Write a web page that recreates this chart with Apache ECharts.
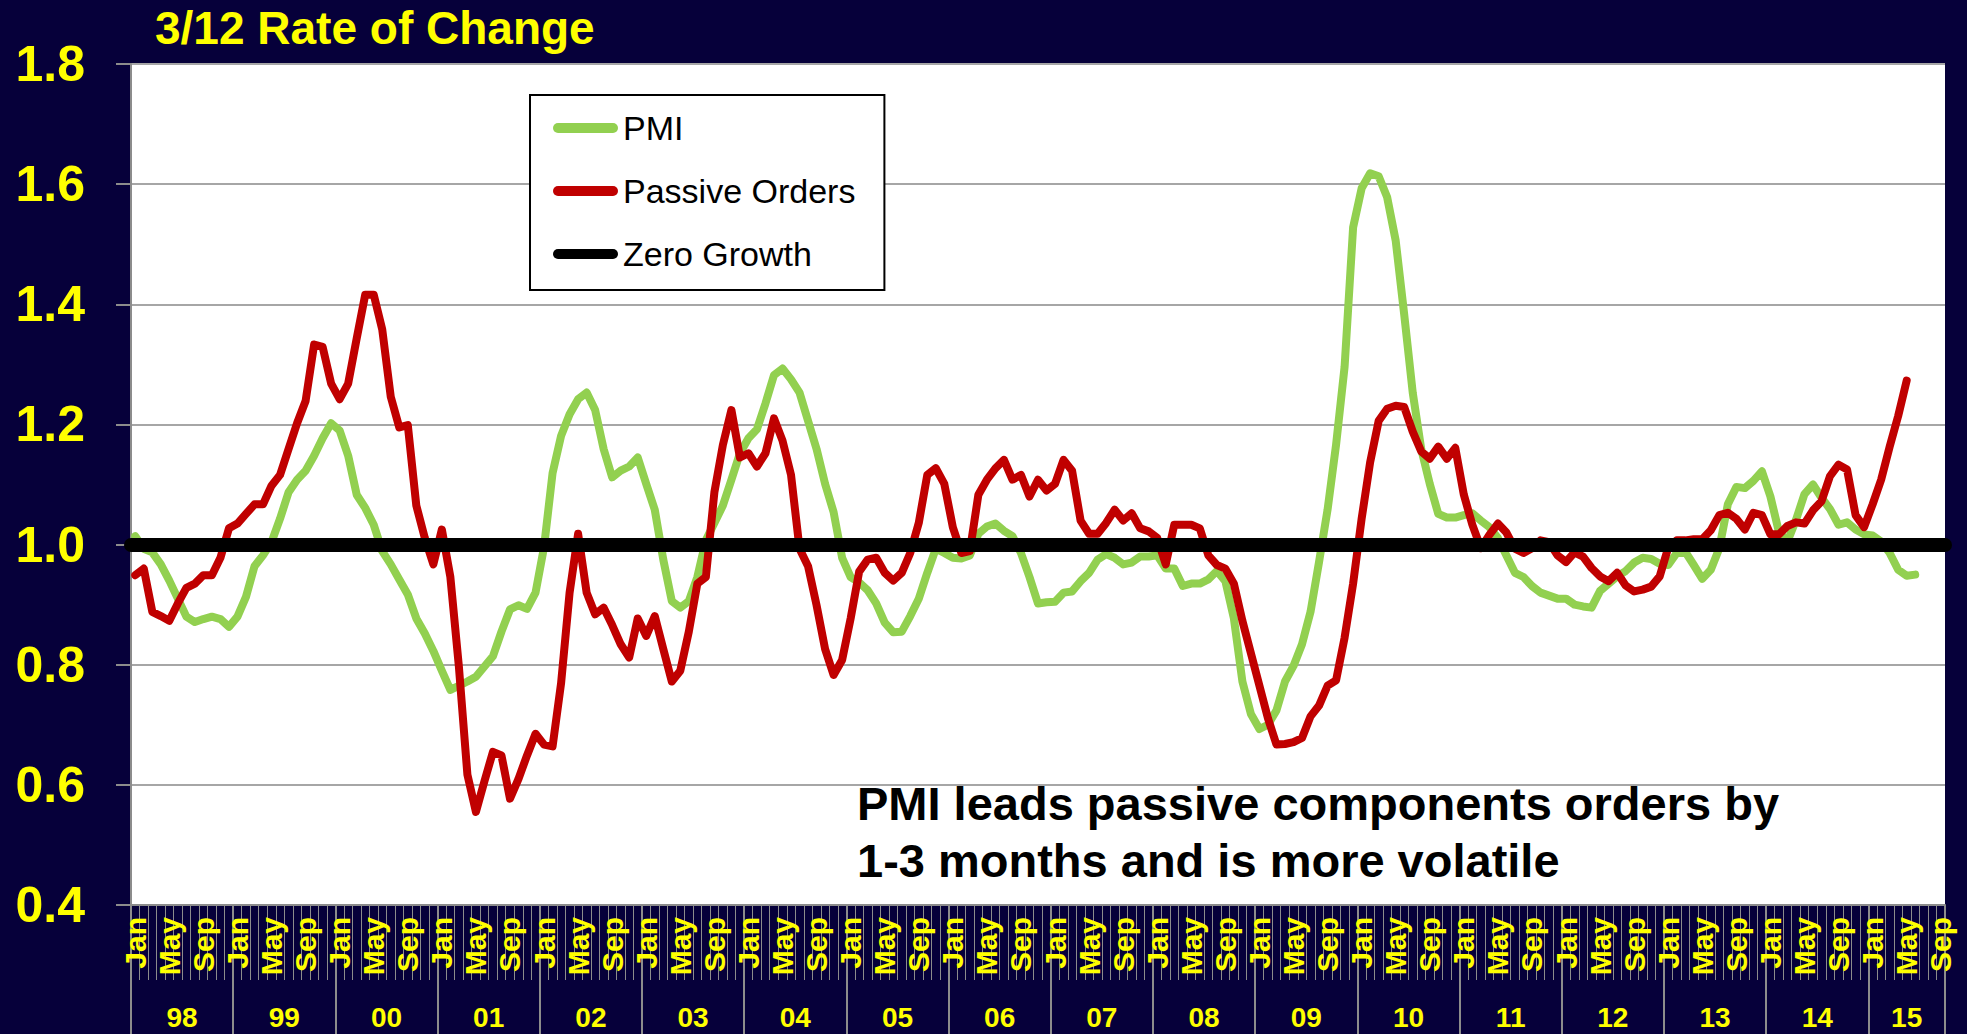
<!DOCTYPE html>
<html><head><meta charset="utf-8">
<script src="https://cdn.jsdelivr.net/npm/echarts@6/dist/echarts.min.js"></script>
<style>html,body{margin:0;padding:0;background:#06003a;}#c{width:1967px;height:1034px;}</style>
</head><body><div id="c"></div>
<script>
// ---- data ----
const years = ['98','99','00','01','02','03','04','05','06','07','08','09','10','11','12','13','14','15'];
const monthNames = ['Jan','Feb','Mar','Apr','May','Jun','Jul','Aug','Sep','Oct','Nov','Dec'];
const monthsInLastYear = 9; // axis runs Jan 98 .. Sep 15
const yTicks = [0.4, 0.6, 0.8, 1.0, 1.2, 1.4, 1.6, 1.8];
const zeroGrowthLevel = 1.0;

const pmi = [
1.014,0.993,0.987,0.967,0.94,0.91,0.88,0.871,0.876,0.88,0.876,0.863,
0.88,0.913,0.964,0.982,1.004,1.043,1.087,1.108,1.123,1.148,1.177,1.202,
1.19,1.148,1.083,1.061,1.033,0.989,0.967,0.942,0.917,0.877,0.852,0.823,
0.79,0.758,0.765,0.772,0.78,0.797,0.814,0.855,0.892,0.899,0.893,0.92,
0.996,1.119,1.181,1.217,1.242,1.253,1.224,1.159,1.112,1.123,1.13,1.145,
1.101,1.058,0.975,0.906,0.895,0.906,0.946,1.007,1.036,1.065,1.108,1.152,
1.177,1.192,1.235,1.282,1.293,1.275,1.253,1.206,1.159,1.101,1.054,0.978,
0.946,0.937,0.924,0.902,0.87,0.854,0.855,0.881,0.91,0.953,0.993,0.986,
0.978,0.977,0.982,1.018,1.03,1.035,1.023,1.014,0.986,0.946,0.902,0.904,
0.905,0.92,0.922,0.939,0.953,0.975,0.984,0.978,0.967,0.97,0.98,0.98,
0.982,0.96,0.96,0.931,0.935,0.935,0.942,0.956,0.939,0.877,0.772,0.718,
0.693,0.7,0.724,0.772,0.798,0.834,0.888,0.971,1.058,1.166,1.296,1.528,
1.593,1.618,1.613,1.578,1.506,1.383,1.253,1.159,1.101,1.051,1.045,1.045,
1.049,1.052,1.04,1.029,1.011,0.982,0.953,0.946,0.931,0.92,0.915,0.91,
0.91,0.9,0.897,0.895,0.923,0.935,0.947,0.956,0.97,0.978,0.976,0.968,
0.966,0.986,0.988,0.966,0.943,0.958,0.994,1.067,1.096,1.094,1.106,1.122,
1.08,1.021,1.005,1.041,1.084,1.1,1.078,1.059,1.033,1.037,1.025,1.017,
1.015,1.005,0.986,0.958,0.948,0.95
];
const passiveOrders = [
0.949,0.96,0.888,0.881,0.873,0.902,0.928,0.935,0.949,0.949,0.978,1.027,
1.035,1.051,1.067,1.067,1.098,1.116,1.159,1.202,1.239,1.333,1.329,1.268,
1.242,1.268,1.343,1.416,1.416,1.358,1.246,1.195,1.199,1.065,1.011,0.967,
1.025,0.946,0.797,0.617,0.555,0.606,0.655,0.649,0.577,0.61,0.649,0.685,
0.667,0.664,0.769,0.92,1.018,0.92,0.884,0.895,0.866,0.834,0.812,0.877,
0.848,0.881,0.826,0.772,0.79,0.855,0.935,0.946,1.087,1.166,1.224,1.145,
1.152,1.13,1.152,1.21,1.173,1.116,0.993,0.964,0.899,0.826,0.783,0.808,
0.877,0.955,0.975,0.978,0.953,0.94,0.953,0.986,1.036,1.116,1.127,1.101,
1.029,0.986,0.989,1.083,1.108,1.127,1.141,1.108,1.116,1.08,1.108,1.09,
1.101,1.141,1.123,1.04,1.018,1.018,1.036,1.058,1.04,1.052,1.027,1.022,
1.011,0.967,1.033,1.033,1.033,1.027,0.982,0.966,0.96,0.935,0.873,0.819,
0.765,0.711,0.667,0.668,0.671,0.678,0.714,0.732,0.765,0.774,0.845,0.935,
1.043,1.137,1.206,1.226,1.231,1.229,1.188,1.155,1.143,1.163,1.143,1.161,
1.083,1.033,0.994,1.016,1.035,1.02,0.993,0.986,0.994,1.007,1.004,0.982,
0.971,0.987,0.98,0.961,0.947,0.939,0.953,0.932,0.922,0.925,0.93,0.947,
0.995,1.007,1.007,1.009,1.009,1.024,1.049,1.053,1.043,1.025,1.053,1.049,
1.017,1.017,1.031,1.037,1.035,1.057,1.072,1.114,1.133,1.125,1.049,1.029,
1.067,1.108,1.163,1.214,1.273
];

// ---- derived axis helpers ----
const categories = [];
years.forEach((y, k) => {
  const n = (k === years.length - 1) ? monthsInLastYear : 12;
  for (let m = 0; m < n; m++) categories.push(monthNames[m] + ' ' + y);
});
const N = categories.length;
const yearBounds = [], yearCenters = [], centerToYear = {};
years.forEach((y, k) => {
  const s = k * 12, e = Math.min((k + 1) * 12, N);
  yearBounds.push(s);
  const c = (s + e) / 2;
  yearCenters.push(c);
  centerToYear[c] = y;
});
yearBounds.push(N);

const FONT = '"Liberation Sans", Arial, Helvetica, sans-serif';
const YEL = '#ffff00';
const GRAY = '#8c8c8c';

const chart = echarts.init(document.getElementById('c'), null, {renderer: 'svg', width: 1967, height: 1034});
chart.setOption({
  backgroundColor: '#06003a',
  animation: false,
  title: {
    text: '3/12 Rate of Change',
    left: 150, top: 0,
    textStyle: {color: YEL, fontFamily: FONT, fontWeight: 'bold', fontSize: 46}
  },
  legend: {
    orient: 'vertical',
    left: 530, top: 95,
    padding: [16, 29, 19, 23],
    itemGap: 29,
    itemWidth: 65, itemHeight: 11,
    icon: 'path://M5,0 H60 A5,5 0 0 1 60,10 H5 A5,5 0 0 1 5,0 Z',
    backgroundColor: '#ffffff',
    borderColor: '#000000', borderWidth: 2, borderRadius: 0,
    textStyle: {color: '#000', fontFamily: FONT, fontSize: 34},
    data: ['PMI', 'Passive Orders', 'Zero Growth']
  },
  grid: {
    left: 131, top: 64, width: 1814, height: 841,
    show: true, backgroundColor: '#ffffff', borderWidth: 0,
    containLabel: false
  },
  graphic: [{
    type: 'text', left: 857, top: 775, z: 100,
    style: {
      text: 'PMI leads passive components orders by\n1-3 months and is more volatile',
      fill: '#000', font: 'bold 47px ' + FONT, lineHeight: 57
    }
  }],
  xAxis: [{
    type: 'category', data: categories, boundaryGap: true,
    axisLine: {show: true, lineStyle: {color: GRAY, width: 2}},
    axisTick: {show: true, interval: 0, length: 75, lineStyle: {color: GRAY, width: 1}},
    axisLabel: {
      interval: 3, rotate: 90, margin: 12,
      color: YEL, fontFamily: FONT, fontWeight: 'bold', fontSize: 30,
      formatter: v => v.split(' ')[0]
    },
    splitLine: {show: false}
  }, {
    type: 'value', position: 'bottom', min: 0, max: N,
    axisLine: {show: false},
    axisTick: {show: true, customValues: yearBounds, length: 129, lineStyle: {color: GRAY, width: 2}},
    axisLabel: {
      customValues: yearCenters, margin: 98,
      color: YEL, fontFamily: FONT, fontWeight: 'bold', fontSize: 28,
      formatter: v => centerToYear[v] || ''
    },
    splitLine: {show: false}
  }],
  yAxis: {
    type: 'value', min: yTicks[0], max: yTicks[yTicks.length - 1], interval: 0.2,
    axisLine: {show: true, lineStyle: {color: GRAY, width: 2}},
    axisTick: {show: true, length: 15, lineStyle: {color: GRAY, width: 2}},
    axisLabel: {
      margin: 46, color: YEL, fontFamily: FONT, fontWeight: 'bold', fontSize: 50,
      formatter: v => v.toFixed(1)
    },
    splitLine: {show: true, lineStyle: {color: '#a6a6a6', width: 2}}
  },
  series: [{
    name: 'PMI', type: 'line', data: pmi, xAxisIndex: 0,
    symbol: 'none', color: '#92d050',
    lineStyle: {width: 8, color: '#92d050', cap: 'round', join: 'round'}, z: 2
  }, {
    name: 'Passive Orders', type: 'line', data: passiveOrders, xAxisIndex: 0,
    symbol: 'none', color: '#c00000',
    lineStyle: {width: 8, color: '#c00000', cap: 'round', join: 'round'}, z: 3
  }, {
    name: 'Zero Growth', type: 'line', data: [], xAxisIndex: 0,
    symbol: 'none', color: '#000000', z: 4,
    markLine: {
      silent: true, symbol: 'none', animation: false,
      label: {show: false},
      lineStyle: {color: '#000000', width: 14, type: 'solid', cap: 'round'},
      emphasis: {disabled: true},
      data: [{yAxis: zeroGrowthLevel}]
    }
  }]
});
</script></body></html>
